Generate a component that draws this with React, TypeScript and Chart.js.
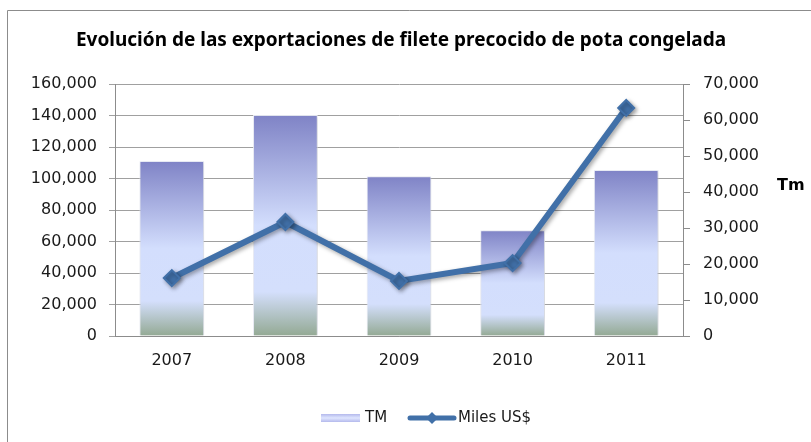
import React, { useEffect, useRef } from "react";
import { Chart, registerables } from "chart.js";

Chart.register(...registerables);

const TITLE = "Evolución de las exportaciones de filete precocido de pota congelada";
const years = ["2007", "2008", "2009", "2010", "2011"];
const tmValues = [48600, 61400, 44400, 29400, 46100];
const milesUS = [36800, 72400, 35000, 46300, 144800];
const leftTicksMax = 160000;
const leftStep = 20000;
const rightTicksMax = 70000;
const rightStep = 10000;
const rightAxisTitle = "Tm";
const legendLabels = ["TM", "Miles US$"];

const LINE_COLOR = "#4170a8";
const FONT = "'DejaVu Sans', sans-serif";

function barGradient(ctx: any) {
  const chart = ctx.chart;
  const sc = chart.scales && chart.scales.y1;
  if (!chart.chartArea || !sc || ctx.type !== "data") return "#d4dffd";
  const top = sc.getPixelForValue(ctx.raw);
  const base = sc.getPixelForValue(0);
  if (!isFinite(top) || !isFinite(base) || top === base) return "#d4dffd";
  const g = chart.ctx.createLinearGradient(0, top, 0, base);
  g.addColorStop(0, "#7f83c6");
  g.addColorStop(0.5, "#d3defd");
  g.addColorStop(0.8, "#d4dffc");
  g.addColorStop(1, "#93a993");
  return g;
}

const decorPlugin = {
  id: "decor",
  beforeDatasetDraw(chart: any, args: any) {
    const c = chart.ctx;
    c.save();
    if (args.index === 1) {
      c.shadowColor = "rgba(0,0,0,0.35)";
      c.shadowBlur = 4;
      c.shadowOffsetX = 2;
      c.shadowOffsetY = 2;
    } else {
      c.shadowColor = "rgba(0,0,0,0.15)";
      c.shadowBlur = 3;
      c.shadowOffsetX = 1;
      c.shadowOffsetY = 1;
    }
  },
  afterDatasetDraw(chart: any) {
    chart.ctx.restore();
  },
  afterDraw(chart: any) {
    const c = chart.ctx;
    c.save();
    // outer border (right and bottom edges lie outside the picture)
    c.strokeStyle = "#8c8c8c";
    c.lineWidth = 1;
    c.beginPath();
    c.moveTo(7.5, 450);
    c.lineTo(7.5, 10.5);
    c.lineTo(820, 10.5);
    c.stroke();
    // title
    c.fillStyle = "#000";
    c.font = `bold 19px 'Noto Sans', sans-serif`;
    c.textAlign = "center";
    c.textBaseline = "middle";
    c.fillText(TITLE, 401, 41);
    // right axis title
    c.font = `bold 16px ${FONT}`;
    c.textAlign = "left";
    c.fillText(rightAxisTitle, 777, 186);
    // legend
    const ly = 418;
    const lg = c.createLinearGradient(0, ly - 4, 0, ly + 4);
    lg.addColorStop(0, "#b4b9ec");
    lg.addColorStop(0.5, "#dfe6ff");
    lg.addColorStop(1, "#b4b9ec");
    c.fillStyle = lg;
    c.fillRect(321, ly - 4, 39, 8);
    c.fillStyle = "#1a1a1a";
    c.font = `15px ${FONT}`;
    c.fillText(legendLabels[0], 365, ly);
    c.strokeStyle = LINE_COLOR;
    c.lineWidth = 5;
    c.lineCap = "round";
    c.beginPath();
    c.moveTo(410, ly);
    c.lineTo(454, ly);
    c.stroke();
    c.fillStyle = LINE_COLOR;
    c.beginPath();
    c.moveTo(432 - 6, ly);
    c.lineTo(432, ly - 6);
    c.lineTo(432 + 6, ly);
    c.lineTo(432, ly + 6);
    c.closePath();
    c.fill();
    c.fillStyle = "#1a1a1a";
    c.fillText(legendLabels[1], 458, ly);
    c.restore();
  },
};

export default function App() {
  const ref = useRef<HTMLCanvasElement | null>(null);
  useEffect(() => {
    if (!ref.current) return;
    const chart = new Chart(ref.current, {
      type: "bar",
      data: {
        labels: years,
        datasets: [
          {
            type: "bar",
            label: legendLabels[0],
            data: tmValues,
            yAxisID: "y1",
            backgroundColor: barGradient as any,
            borderColor: "rgba(235,238,248,0.9)",
            borderWidth: 1,
            barPercentage: 0.57,
            categoryPercentage: 1,
            order: 1,
          },
          {
            type: "line",
            label: legendLabels[1],
            data: milesUS,
            yAxisID: "y",
            borderColor: LINE_COLOR,
            backgroundColor: LINE_COLOR,
            borderWidth: 6,
            pointStyle: "rectRot",
            pointRadius: 8,
            pointBorderWidth: 2,
            pointBackgroundColor: LINE_COLOR,
            pointBorderColor: LINE_COLOR,
            tension: 0,
            order: 0,
          } as any,
        ],
      },
      options: {
        responsive: false,
        animation: false,
        layout: { padding: { top: 84, left: 0, right: 0, bottom: 0 } },
        plugins: {
          legend: { display: false },
          title: { display: false },
          tooltip: { enabled: false },
        },
        scales: {
          x: {
            grid: { display: false, drawTicks: false },
            border: { display: true, color: "#8c8c8c", width: 1 },
            ticks: { color: "#1a1a1a", font: { family: FONT, size: 16 }, padding: 15 },
            afterFit: (s: any) => {
              s.height = 106;
            },
          },
          y: {
            position: "left",
            min: 0,
            max: leftTicksMax,
            ticks: {
              stepSize: leftStep,
              color: "#1a1a1a",
              font: { family: FONT, size: 16 },
              padding: 12,
              callback: (v: any) => Number(v).toLocaleString("en-US"),
            },
            grid: { color: "#a0a0a0", lineWidth: 1, tickLength: 6 },
            border: { display: true, color: "#8c8c8c", width: 1 },
            afterFit: (s: any) => {
              s.width = 115;
            },
          },
          y1: {
            position: "right",
            min: 0,
            max: rightTicksMax,
            ticks: {
              stepSize: rightStep,
              color: "#1a1a1a",
              font: { family: FONT, size: 16 },
              padding: 13,
              callback: (v: any) => Number(v).toLocaleString("en-US"),
            },
            grid: { drawOnChartArea: false, color: "#8c8c8c", tickLength: 7 },
            border: { display: true, color: "#8c8c8c", width: 1 },
            afterFit: (s: any) => {
              s.width = 128;
            },
          },
        },
      } as any,
      plugins: [decorPlugin],
    });
    return () => chart.destroy();
  }, []);
  return (
    <div style={{ position: "absolute", left: 0, top: 0, width: 811, height: 442, background: "#fff" }}>
      <canvas ref={ref} width={811} height={442} style={{ display: "block" }} />
    </div>
  );
}
